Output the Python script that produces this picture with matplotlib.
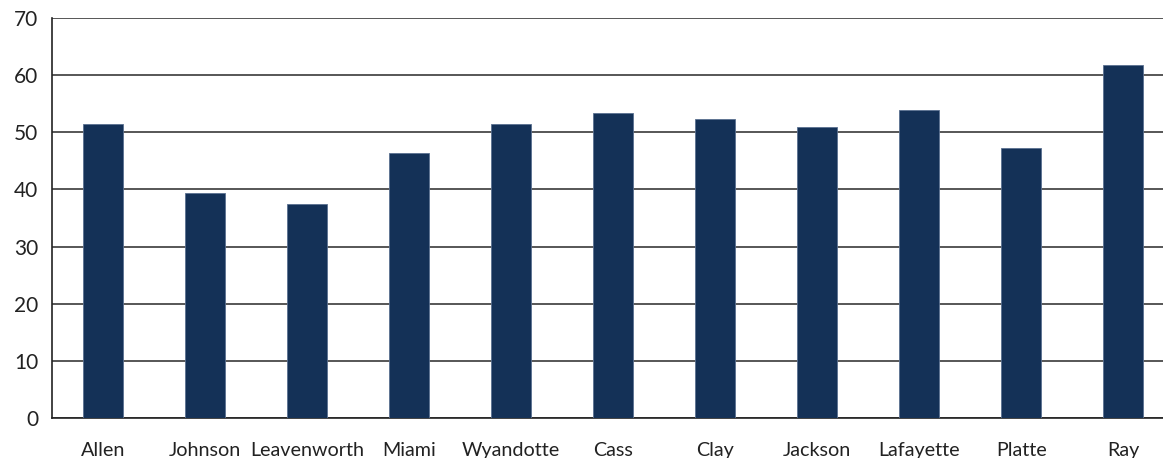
import matplotlib.pyplot as plt
import numpy as np

# county values
counties = ['Allen', 'Johnson', 'Leavenworth', 'Miami', 'Wyandotte', 'Cass',
            'Clay', 'Jackson', 'Lafayette', 'Platte', 'Ray']
values = [51.5, 39.3, 37.4, 46.4, 51.5, 53.4, 52.4, 51.0, 53.9, 47.3, 61.8]
yticks = [0, 10, 20, 30, 40, 50, 60, 70]

plt.rcParams['font.family'] = ['Lato', 'DejaVu Sans']

fig = plt.figure(figsize=(11.63, 4.58), dpi=100)
ax = fig.add_axes([52 / 1163, 40 / 458, 1 - 52 / 1163, 400 / 458])

x = np.arange(len(counties))
ax.bar(x, values, width=0.39, color='#143157', edgecolor='#5a7090',
       linewidth=0.6, zorder=3)

ax.set_xlim(-0.5, len(counties) - 0.61)
ax.set_ylim(0, 70)
ax.set_yticks(yticks)
ax.set_xticks(x)
ax.set_xticklabels(counties, fontsize=14.2, color='#222222')
ax.tick_params(axis='y', labelsize=15, colors='#222222', length=0, pad=10)
ax.tick_params(axis='x', length=0, pad=17)

ax.yaxis.grid(True, color='#3a3a3a', linewidth=1.2, zorder=0)
for s in ['top', 'right']:
    ax.spines[s].set_visible(False)
ax.spines['left'].set_color('#222222')
ax.spines['bottom'].set_color('#222222')
ax.spines['left'].set_linewidth(1.2)
ax.spines['bottom'].set_linewidth(1.2)

fig.savefig('out.png', dpi=100)
